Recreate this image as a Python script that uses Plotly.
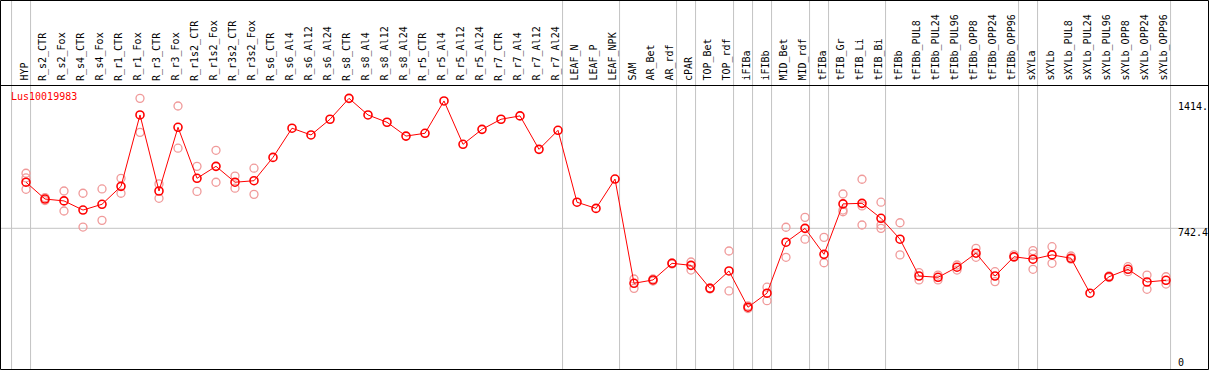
import plotly.graph_objects as go

# ---------------- data ----------------
gene = "Lus10019983"

categories = [
    "HYP", "R_s2_CTR", "R_s2_Fox", "R_s4_CTR", "R_s4_Fox", "R_r1_CTR", "R_r1_Fox",
    "R_r3_CTR", "R_r3_Fox", "R_r1s2_CTR", "R_r1s2_Fox", "R_r3s2_CTR", "R_r3s2_Fox",
    "R_s6_CTR", "R_s6_Al4", "R_s6_Al12", "R_s6_Al24", "R_s8_CTR", "R_s8_Al4",
    "R_s8_Al12", "R_s8_Al24", "R_r5_CTR", "R_r5_Al4", "R_r5_Al12", "R_r5_Al24",
    "R_r7_CTR", "R_r7_Al4", "R_r7_Al12", "R_r7_Al24", "LEAF_N", "LEAF_P", "LEAF_NPK",
    "SAM", "AR_Bet", "AR_rdf", "cPAR", "TOP_Bet", "TOP_rdf", "iFIBa", "iFIBb",
    "MID_Bet", "MID_rdf", "tFIBa", "tFIB_Gr", "tFIB_Li", "tFIB_Bi", "tFIBb",
    "tFIBb_PUL8", "tFIBb_PUL24", "tFIBb_PUL96", "tFIBb_OPP8", "tFIBb_OPP24",
    "tFIBb_OPP96", "sXYLa", "sXYLb", "sXYLb_PUL8", "sXYLb_PUL24", "sXYLb_PUL96",
    "sXYLb_OPP8", "sXYLb_OPP24", "sXYLb_OPP96",
]

means = [
    989, 899, 889, 840, 871, 967, 1349, 942, 1283, 1010, 1074, 989, 997,
    1122, 1278, 1242, 1326, 1438, 1349, 1310, 1236, 1251, 1424, 1192, 1272,
    1326, 1344, 1165, 1267, 882, 849, 1006,
    448, 466, 555, 544, 421, 514, 320, 395, 668, 742, 603, 873, 876, 796, 684,
    487, 480, 534, 609, 487, 590, 577, 600, 582, 395, 483, 523, 455, 464,
]

replicates = [
    [1037, 1012, 951], [907, 891], [942, 835], [930, 749], [953, 785],
    [1010, 930], [1438, 1256], [980, 903], [1397, 1171], [1074, 940],
    [1160, 989], [1022, 957], [1064, 924],
    [], [], [], [], [], [], [], [], [], [], [], [], [], [], [], [],
    [], [], [],
    [471, 421], [471, 460], [557, 551], [562, 519], [423, 418], [621, 407],
    [327, 313], [427, 355], [748, 587], [801, 684], [694, 558],
    [926, 840, 831], [1005, 862, 760], [882, 760, 742], [772, 600],
    [505, 466], [492, 466], [546, 519], [635, 587], [510, 457], [600, 587],
    [623, 605, 523], [644, 555], [594, 577], [], [487, 479], [537, 510],
    [492, 416], [483, 444],
]

# group separators are drawn just after these categories ("" = before the first)
separators_after = ["", "HYP", "R_r7_Al24", "LEAF_NPK", "AR_rdf", "cPAR", "TOP_rdf",
                    "iFIBa", "iFIBb", "MID_rdf", "tFIBa", "tFIB_Bi", "tFIBb_OPP96",
                    "sXYLa", "sXYLb_OPP96"]

ytick_values = [0, 742.4, 1414.8]
ytick_labels = ["0", "742.4", "1414."]

# ---------------- layout constants ----------------
W, H = 1209, 370
PX_PER_CAT = 19.0
FIRST_CAT_PX = 26.0
Y0_PX = 367.0
PX_PER_UNIT = 0.18683
HEADER_PX = 85.0

xr0 = -FIRST_CAT_PX / PX_PER_CAT
xr1 = xr0 + W / PX_PER_CAT
yr0 = -(H - Y0_PX) / PX_PER_UNIT
yr1 = Y0_PX / PX_PER_UNIT

FONT = "DejaVu Sans Mono"
RED = "#ff0000"
PALE = "#f09a9a"
GRID = "#c4c4c4"

idx = list(range(len(categories)))

rep_x, rep_y = [], []
for i, reps in enumerate(replicates):
    for v in reps:
        rep_x.append(i)
        rep_y.append(v)

fig = go.Figure()
fig.add_trace(go.Scatter(
    x=rep_x, y=rep_y, mode="markers",
    marker=dict(symbol="circle-open", size=8, color=PALE, line=dict(width=1.3)),
    hoverinfo="skip", showlegend=False,
))
fig.add_trace(go.Scatter(
    x=idx, y=means, mode="lines+markers",
    line=dict(color=RED, width=1),
    marker=dict(symbol="circle-open", size=8, color=RED, line=dict(width=1.6)),
    text=categories, showlegend=False,
))

shapes = []
# vertical separators
for name in separators_after:
    i = -1 if name == "" else categories.index(name)
    shapes.append(dict(type="line", xref="x", yref="paper", x0=i + 0.24, x1=i + 0.24,
                       y0=0, y1=1, line=dict(color=GRID, width=1), layer="below"))
# horizontal mid gridline
shapes.append(dict(type="line", xref="paper", yref="y", x0=0, x1=1,
                   y0=ytick_values[1], y1=ytick_values[1],
                   line=dict(color=GRID, width=1), layer="below"))
# header separator and frame
py = lambda p: 1 - p / H
px = lambda p: p / W
shapes.append(dict(type="line", xref="paper", yref="paper", x0=0, x1=1,
                   y0=py(HEADER_PX + 0.5), y1=py(HEADER_PX + 0.5),
                   line=dict(color="black", width=1)))
shapes.append(dict(type="rect", xref="paper", yref="paper",
                   x0=px(0.5), x1=px(W - 0.5), y0=py(H - 0.5), y1=py(0.5),
                   line=dict(color="black", width=1)))

annotations = []
for i, c in enumerate(categories):
    annotations.append(dict(
        x=i, xref="x", y=py(HEADER_PX - 2), yref="paper",
        text=c, textangle=-90, showarrow=False,
        xanchor="center", yanchor="bottom", xshift=-2.5,
        font=dict(family=FONT, size=10, color="black"),
    ))
annotations.append(dict(
    x=px(9), xref="paper", y=py(96.7), yref="paper", text=gene, showarrow=False,
    xanchor="left", yanchor="middle", font=dict(family=FONT, size=10, color=RED),
))
for v, lab in zip(ytick_values, ytick_labels):
    annotations.append(dict(
        x=px(1176), xref="paper", y=v, yref="y", text=lab, showarrow=False,
        xanchor="left", yanchor="middle", yshift=(4.7 if v == 0 else -3.7),
        font=dict(family=FONT, size=10, color="black"),
    ))

fig.update_layout(
    width=W, height=H,
    margin=dict(l=0, r=0, t=0, b=0),
    paper_bgcolor="white", plot_bgcolor="white",
    xaxis=dict(range=[xr0, xr1], visible=False, fixedrange=True),
    yaxis=dict(range=[yr0, yr1], visible=False, fixedrange=True),
    shapes=shapes, annotations=annotations,
    showlegend=False,
)

fig.write_html(
    "out.html",
    config={"displayModeBar": False},
    post_script="document.body.style.margin='0px';document.body.style.overflow='hidden';",
)
